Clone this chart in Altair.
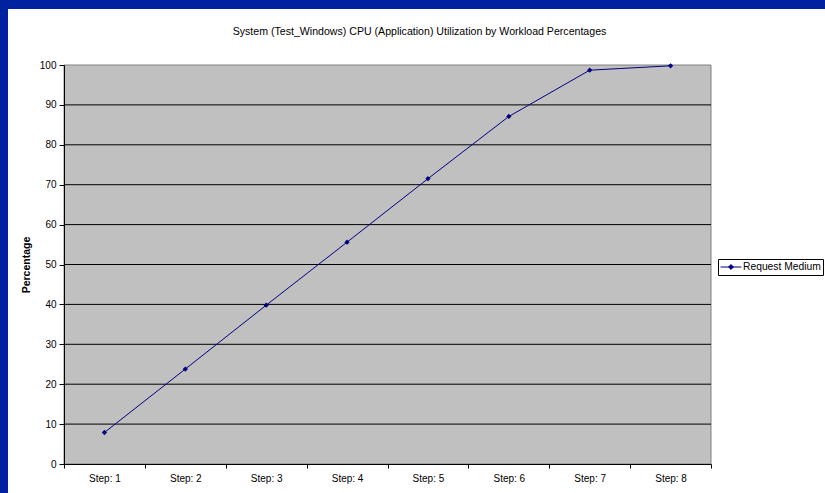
import altair as alt
import pandas as pd

# ---- data ----
steps = ["Step: 1", "Step: 2", "Step: 3", "Step: 4", "Step: 5", "Step: 6", "Step: 7", "Step: 8"]
values = [7.9, 23.8, 39.8, 55.6, 71.5, 87.1, 98.7, 99.8]
series_name = "Request Medium"
y_ticks = [0, 10, 20, 30, 40, 50, 60, 70, 80, 90, 100]
title_text = "System (Test_Windows) CPU (Application) Utilization by Workload Percentages"

W, H = 647, 399
PADL, PADT, PADR, PADB = 64, 65, 114, 29
FONT = "Liberation Sans"
NAVY = "#000080"

df = pd.DataFrame({"step": steps, "pct": values, "series": [series_name] * len(steps)})
one = alt.Data(values=[{}])

yscale = alt.Scale(domain=[0, 100], nice=False, zero=True)
xscale = alt.Scale(type="band", paddingInner=0, paddingOuter=0)
yaxis = alt.Axis(title="Percentage", values=y_ticks, tickSize=5, labelPadding=3,
                 titleFontWeight="bold", titlePadding=8,
                 domainColor="black", tickColor="black", zindex=2)

# white sheet over the blue page background
sheet = alt.Chart(one).mark_rect(color="white").encode(
    x=alt.value(-(PADL - 8)), x2=alt.value(W + PADR),
    y=alt.value(-(PADT - 9)), y2=alt.value(H + PADB),
)

# gray plot area with gray border
plot_bg = alt.Chart(one).mark_rect(fill="#C0C0C0", stroke="#808080", strokeWidth=1).encode(
    x=alt.value(0), x2=alt.value(W), y=alt.value(0), y2=alt.value(H)
)

grid = alt.Chart(pd.DataFrame({"pct": y_ticks[1:-1]})).mark_rule(color="black", strokeWidth=1).encode(
    y=alt.Y("pct:Q", scale=yscale, axis=yaxis)
)

base = alt.Chart(df).encode(
    x=alt.X("step:N", sort=steps, scale=xscale,
            axis=alt.Axis(title=None, labelAngle=0, tickBand="extent", tickSize=4,
                          labelPadding=5, domainColor="black", tickColor="black", zindex=2)),
    y=alt.Y("pct:Q", scale=yscale, axis=yaxis),
)

line = base.mark_line(strokeWidth=1).encode(
    color=alt.Color("series:N", scale=alt.Scale(domain=[series_name], range=[NAVY]),
                    legend=alt.Legend(title=None, orient="none", legendX=654, legendY=194,
                                      symbolType="M-1.9,0H1.9M0,-0.45L0.45,0L0,0.45L-0.45,0Z",
                                      symbolSize=121, symbolStrokeWidth=1, symbolOffset=5,
                                      symbolFillColor=NAVY, symbolStrokeColor=NAVY,
                                      labelFont=FONT, labelFontSize=10.3, labelColor="black",
                                      labelOffset=6, padding=2, zindex=3,
                                      fillColor="white", strokeColor="black"))
)
pts = base.mark_point(shape="diamond", filled=True, size=28, color=NAVY, opacity=1)

chart = alt.layer(sheet, plot_bg, grid, line, pts).properties(
    width=W, height=H,
    autosize=alt.AutoSizeParams(type="none"),
    padding={"left": PADL, "top": PADT, "right": PADR, "bottom": PADB},
    background="#0022A0",
    title=alt.TitleParams(title_text, font=FONT, fontSize=10.6, fontWeight="normal", color="black",
                          anchor="middle", dx=32, offset=-29, zindex=3),
).configure_axis(
    labelFont=FONT, labelFontSize=10, labelColor="black", titleFont=FONT, titleFontSize=10.5,
    titleColor="black", grid=False,
).configure_view(stroke=None)

chart.save("out.html", embed_options={"renderer": "svg", "actions": False})
